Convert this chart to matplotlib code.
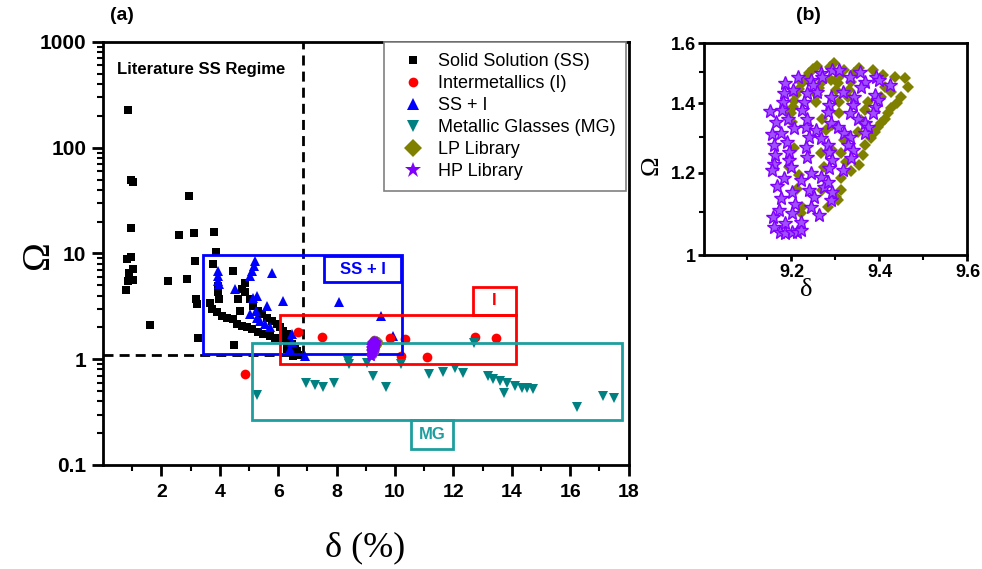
import matplotlib
matplotlib.use('Agg')
import matplotlib.pyplot as plt
from matplotlib.patches import Rectangle
from matplotlib.lines import Line2D
from matplotlib.ticker import FixedLocator, NullFormatter
import numpy as np

# ---------------- data (delta %, Omega) ----------------
ss_pts = [(0.87, 228), (0.95, 49.7), (1.04, 47.5), (2.96, 34.6), (0.96, 17.6), (2.6, 15.0),
          (3.13, 15.6), (3.79, 16.0), (3.86, 10.4), (3.16, 8.5), (3.78, 7.9), (4.46, 6.8),
          (0.81, 8.8), (0.95, 9.2), (1.04, 7.1), (0.90, 6.6), (1.02, 5.6), (0.85, 5.5), (0.78, 4.5),
          (2.24, 5.5), (2.89, 5.7), (1.61, 2.13), (3.2, 3.7), (3.23, 3.3), (3.27, 1.6), (4.49, 1.36),
          (3.95, 4.9), (3.95, 4.3), (3.98, 3.7), (3.66, 3.4), (3.72, 2.97), (3.89, 2.77), (4.07, 2.57),
          (4.24, 2.48), (4.63, 3.7), (4.69, 2.86), (4.46, 2.39), (4.58, 2.14), (4.75, 2.07), (4.92, 2.0),
          (5.09, 1.92), (5.32, 1.79), (5.49, 1.72), (5.72, 1.66), (5.89, 1.6), (4.86, 5.3), (4.75, 4.6),
          (4.86, 4.3), (5.03, 3.7), (5.15, 3.2), (5.32, 2.86), (5.43, 2.67), (5.6, 2.48), (5.78, 2.3),
          (5.95, 2.14), (6.06, 2.0), (6.17, 1.85), (6.29, 1.72), (6.12, 1.6), (6.35, 1.49), (6.46, 1.39),
          (6.29, 1.24), (6.58, 1.24), (6.52, 1.07), (6.69, 1.09), (6.29, 1.34), (6.4, 1.16), (6.63, 1.2)]
im_pts = [(4.86, 0.72), (6.69, 1.81), (7.49, 1.63), (9.83, 1.6), (10.34, 1.57), (10.2, 1.07),
          (11.09, 1.05), (12.74, 1.64), (13.46, 1.58)]
ssi_pts = [(3.95, 6.8), (3.95, 6.1), (3.95, 5.5), (3.98, 5.1), (5.2, 8.5), (5.18, 7.6), (5.11, 6.8),
           (5.03, 6.1), (5.78, 6.6), (4.52, 4.6), (5.26, 4.0), (5.15, 3.8), (5.23, 2.86), (5.03, 2.67),
           (5.26, 2.48), (5.38, 2.3), (5.55, 2.14), (5.72, 2.0), (5.6, 3.2), (6.15, 3.56), (6.46, 1.72),
           (6.46, 1.44), (6.4, 1.24), (6.92, 1.07), (8.07, 3.48), (9.53, 2.57), (9.93, 1.66)]
mg_pts = [(5.29, 0.46), (6.95, 0.60), (7.26, 0.57), (7.55, 0.55), (7.91, 0.60), (8.4, 0.96), (8.44, 0.90),
          (9.03, 0.93), (9.26, 0.69), (9.68, 0.55), (10.2, 0.90), (11.17, 0.72), (11.65, 0.76),
          (12.05, 0.83), (12.34, 0.74), (12.72, 1.42), (13.2, 0.69), (13.37, 0.647), (13.6, 0.62),
          (13.73, 0.48), (13.82, 0.60), (14.11, 0.56), (14.34, 0.54), (14.51, 0.53), (14.74, 0.52),
          (16.22, 0.35), (17.13, 0.45), (17.5, 0.43)]
lp_pts = [(9.259, 1.522), (9.249, 1.510), (9.240, 1.497), (9.232, 1.483), (9.225, 1.466), (9.217, 1.447),
          (9.211, 1.428), (9.206, 1.409), (9.203, 1.390), (9.200, 1.370), (9.202, 1.345), (9.206, 1.267),
          (9.194, 1.217), (9.217, 1.195), (9.213, 1.159), (9.225, 1.113), (9.221, 1.097),
          (9.297, 1.530), (9.287, 1.517), (9.290, 1.475), (9.270, 1.469), (9.263, 1.448), (9.257, 1.426),
          (9.255, 1.406), (9.269, 1.354), (9.278, 1.320), (9.293, 1.335), (9.267, 1.253), (9.293, 1.262),
          (9.274, 1.217), (9.270, 1.155), (9.282, 1.113), (9.301, 1.138),
          (9.320, 1.508), (9.309, 1.486), (9.305, 1.464), (9.301, 1.443), (9.307, 1.406), (9.307, 1.370),
          (9.320, 1.291), (9.312, 1.253), (9.324, 1.230), (9.312, 1.186), (9.312, 1.155), (9.305, 1.130),
          (9.335, 1.204),
          (9.354, 1.514), (9.343, 1.497), (9.335, 1.469), (9.330, 1.443), (9.328, 1.421), (9.351, 1.315),
          (9.366, 1.277), (9.362, 1.249), (9.354, 1.222), (9.374, 1.406), (9.366, 1.380), (9.358, 1.350),
          (9.385, 1.508), (9.408, 1.491), (9.412, 1.453), (9.427, 1.437), (9.404, 1.421),
          (9.435, 1.486), (9.458, 1.480), (9.465, 1.453), (9.450, 1.421), (9.439, 1.400), (9.427, 1.385),
          (9.419, 1.370), (9.412, 1.354), (9.404, 1.340), (9.397, 1.330), (9.389, 1.315), (9.381, 1.296)]
hp_pts = [(9.152, 1.377), (9.165, 1.345), (9.156, 1.308), (9.160, 1.277), (9.163, 1.249), (9.161, 1.224),
          (9.156, 1.208), (9.167, 1.166), (9.176, 1.134), (9.171, 1.105), (9.158, 1.089), (9.160, 1.065),
          (9.173, 1.053), (9.186, 1.051), (9.202, 1.053), (9.213, 1.053), (9.221, 1.057),
          (9.215, 1.486), (9.186, 1.464), (9.183, 1.432), (9.181, 1.406), (9.179, 1.380), (9.204, 1.443),
          (9.192, 1.354), (9.206, 1.325), (9.176, 1.312), (9.190, 1.286), (9.194, 1.258), (9.194, 1.235),
          (9.198, 1.215), (9.183, 1.186), (9.202, 1.151), (9.209, 1.121), (9.186, 1.073), (9.221, 1.077),
          (9.202, 1.099),
          (9.244, 1.475), (9.248, 1.458), (9.236, 1.432), (9.228, 1.406), (9.225, 1.380), (9.232, 1.330),
          (9.232, 1.270), (9.236, 1.244), (9.244, 1.199), (9.221, 1.181), (9.240, 1.155), (9.251, 1.138),
          (9.244, 1.113), (9.263, 1.093), (9.236, 1.354), (9.240, 1.300),
          (9.267, 1.497), (9.270, 1.486), (9.259, 1.437), (9.255, 1.320), (9.267, 1.296), (9.267, 1.190),
          (9.290, 1.130), (9.274, 1.164),
          (9.293, 1.508), (9.309, 1.508), (9.332, 1.486), (9.355, 1.502), (9.366, 1.469), (9.358, 1.453),
          (9.393, 1.486), (9.400, 1.475), (9.423, 1.458), (9.316, 1.437), (9.343, 1.421), (9.339, 1.395),
          (9.332, 1.370), (9.351, 1.354), (9.366, 1.340), (9.374, 1.330), (9.366, 1.310), (9.389, 1.426),
          (9.397, 1.411), (9.389, 1.390), (9.385, 1.370), (9.290, 1.421), (9.286, 1.395), (9.282, 1.375),
          (9.290, 1.340), (9.305, 1.330), (9.320, 1.310), (9.332, 1.300), (9.328, 1.276), (9.339, 1.262),
          (9.335, 1.239), (9.282, 1.276), (9.286, 1.258), (9.293, 1.235), (9.286, 1.212), (9.316, 1.208),
          (9.282, 1.177), (9.293, 1.151)]

# region boxes: (delta_min, delta_max, omega_min, omega_max)
box_ssi = (3.43, 10.24, 1.13, 9.6)
box_ssi_lbl = (7.58, 10.22, 5.32, 9.45)
box_i = (6.06, 14.14, 0.897, 2.64)
box_i_lbl = (12.68, 14.14, 2.64, 4.8)
box_mg = (5.09, 17.76, 0.267, 1.41)
box_mg_lbl = (10.55, 11.98, 0.141, 0.267)
ss_delta_limit = 6.85
ss_omega_limit = 1.1

legend_labels = ['Solid Solution (SS)', 'Intermetallics (I)', 'SS + I',
                 'Metallic Glasses (MG)', 'LP Library', 'HP Library']
a_yticks = [0.1, 1, 10, 100, 1000]
a_yticklabels = ['0.1', '1', '10', '100', '1000']
a_xticks = [2, 4, 6, 8, 10, 12, 14, 16, 18]
b_xticks = [9.2, 9.4, 9.6]
b_yticks = [1.0, 1.2, 1.4, 1.6]
b_yticklabels = ['1', '1.2', '1.4', '1.6']

# colors
C_SS = 'black'
C_I = '#FF0000'
C_SSI = '#0000FF'
C_MG = '#008080'
C_MGBOX = '#1E9E9E'
C_LP = '#808000'
C_HP = '#8000FF'

SANS = 'Liberation Sans'
SERIF = 'Liberation Serif'
plt.rcParams['font.family'] = [SANS, 'DejaVu Sans']

fig = plt.figure(figsize=(9.82, 5.69), dpi=100)
axa = fig.add_axes([0.1049, 0.1828, 0.5352, 0.7434])
axb = fig.add_axes([0.7164, 0.5518, 0.2688, 0.3721])


def unzip(p):
    a = np.array(p, dtype=float)
    return a[:, 0], a[:, 1]


# ---------------- panel (a) ----------------
axa.set_yscale('log')
axa.set_xlim(0, 18)
axa.set_ylim(0.1, 1000)

x, y = unzip(ss_pts)
axa.plot(x, y, 's', color=C_SS, ms=5.6, mew=0, zorder=3)
x, y = unzip(ssi_pts)
axa.plot(x, y, '^', color=C_SSI, ms=7.5, mew=0, zorder=3)
x, y = unzip(im_pts)
axa.plot(x, y, 'o', color=C_I, ms=7, mew=0, zorder=3)
x, y = unzip(mg_pts)
axa.plot(x, y, 'v', color=C_MG, ms=7.5, mew=0, zorder=3)
x, y = unzip(lp_pts)
axa.plot(x, y, 'D', color=C_LP, ms=4.5, mew=0, zorder=5)
x, y = unzip(hp_pts)
axa.plot(x, y, '*', color=C_HP, ms=6.5, mew=0, zorder=6)


def rect(ax, b, color, lw=2, z=4):
    x0, x1, y0, y1 = b
    ax.add_patch(Rectangle((x0, y0), x1 - x0, y1 - y0, fill=False,
                           edgecolor=color, lw=lw, zorder=z))


rect(axa, box_ssi, C_SSI)
rect(axa, box_ssi_lbl, C_SSI)
rect(axa, box_i, C_I)
rect(axa, box_i_lbl, C_I)
rect(axa, box_mg, C_MGBOX)
rect(axa, box_mg_lbl, C_MGBOX)


def boxtext(ax, b, s, color):
    x0, x1, y0, y1 = b
    ax.text((x0 + x1) / 2, np.sqrt(y0 * y1), s, color=color, fontsize=12,
            fontweight='bold', ha='center', va='center', family=SANS, zorder=6)


boxtext(axa, box_ssi_lbl, 'SS + I', C_SSI)
boxtext(axa, box_i_lbl, 'I', C_I)
boxtext(axa, box_mg_lbl, 'MG', C_MGBOX)

dash = (0, (3.6, 2.2))
axa.plot([ss_delta_limit, ss_delta_limit], [ss_omega_limit, 1000], color='black',
         lw=2, linestyle=dash, zorder=2)
axa.plot([0, ss_delta_limit], [ss_omega_limit, ss_omega_limit], color='black',
         lw=2, linestyle=dash, zorder=2)

axa.text(0.027, 0.934, 'Literature SS Regime', transform=axa.transAxes, fontsize=12,
         fontweight='bold', ha='left', va='center', family=SANS)

for s in axa.spines.values():
    s.set_linewidth(2)
axa.yaxis.set_major_locator(FixedLocator(a_yticks))
axa.set_yticklabels(a_yticklabels)
axa.yaxis.set_minor_locator(FixedLocator(
    [m * 10.0 ** e for e in range(-1, 3) for m in range(2, 10)]))
axa.yaxis.set_minor_formatter(NullFormatter())
axa.set_xticks(a_xticks)
axa.set_xticklabels([str(t) for t in a_xticks])
axa.xaxis.set_minor_locator(FixedLocator(list(range(1, 18, 2))))
axa.tick_params(which='major', direction='out', length=8, width=2, top=False, right=False)
axa.tick_params(which='minor', direction='out', length=4, width=1.5, top=False, right=False)
axa.tick_params(axis='x', which='major', labelsize=14, pad=6)
axa.tick_params(axis='y', which='major', labelsize=15, pad=4)
for lbl in axa.get_xticklabels() + axa.get_yticklabels():
    lbl.set_fontweight('bold')

handles = [
    Line2D([], [], marker='s', color=C_SS, ls='None', ms=6, mew=0),
    Line2D([], [], marker='o', color=C_I, ls='None', ms=7, mew=0),
    Line2D([], [], marker='^', color=C_SSI, ls='None', ms=8, mew=0),
    Line2D([], [], marker='v', color=C_MG, ls='None', ms=8, mew=0),
    Line2D([], [], marker='D', color=C_LP, ls='None', ms=9, mew=0),
    Line2D([], [], marker='*', color=C_HP, ls='None', ms=12, mew=0),
]
leg = axa.legend(handles, legend_labels, loc='upper right', bbox_to_anchor=(0.996, 1.0),
                 borderaxespad=0.0, fontsize=13, frameon=True, fancybox=False,
                 edgecolor='#808080', framealpha=1, handlelength=2.0, handletextpad=0.4,
                 labelspacing=0.28, borderpad=0.6)
leg.get_frame().set_linewidth(1.2)
leg.set_zorder(10)

fig.text(38 / 982, 1 - 255 / 569, 'Ω', family=SERIF, fontsize=28, rotation=90,
         ha='center', va='center')
fig.text(365 / 982, 1 - 548 / 569, 'δ (%)', family=SERIF, fontsize=26,
         ha='center', va='center')
fig.text(122 / 982, 1 - 15 / 569, '(a)', fontsize=14, fontweight='bold',
         ha='center', va='center', family=SANS)
fig.text(808 / 982, 1 - 15 / 569, '(b)', fontsize=14, fontweight='bold',
         ha='center', va='center', family=SANS)

# ---------------- panel (b) ----------------
axb.set_yscale('log')
axb.set_xlim(9.0, 9.6)
axb.set_ylim(1.0, 1.6)
x, y = unzip(lp_pts)
axb.plot(x, y, 'D', color=C_LP, ms=6, mew=0, zorder=3)
x, y = unzip(hp_pts)
axb.plot(x, y, '*', color='#A050FF', ms=10.5, mec=C_HP, mew=1.0, zorder=4)

for s in axb.spines.values():
    s.set_linewidth(2)
axb.yaxis.set_major_locator(FixedLocator(b_yticks))
axb.set_yticklabels(b_yticklabels)
axb.yaxis.set_minor_locator(FixedLocator([1.1, 1.3, 1.5]))
axb.yaxis.set_minor_formatter(NullFormatter())
axb.set_xticks(b_xticks)
axb.set_xticklabels(['9.2', '9.4', '9.6'])
axb.xaxis.set_minor_locator(FixedLocator([9.1, 9.3, 9.5]))
axb.tick_params(which='major', direction='out', length=4, width=2, labelsize=13, top=False, right=False)
axb.tick_params(which='minor', direction='out', length=3.5, width=1.5, top=False, right=False)
axb.tick_params(axis='y', which='major', pad=1.5)
axb.tick_params(axis='x', which='major', pad=2.5)
for lbl in axb.get_xticklabels() + axb.get_yticklabels():
    lbl.set_fontweight('bold')

fig.text(652 / 982, 1 - 165 / 569, 'Ω', family=SERIF, fontsize=19, rotation=90,
         ha='center', va='center')
fig.text(806 / 982, 1 - 290 / 569, 'δ', family=SERIF, fontsize=19,
         ha='center', va='center')

fig.savefig('out.png', dpi=100)
